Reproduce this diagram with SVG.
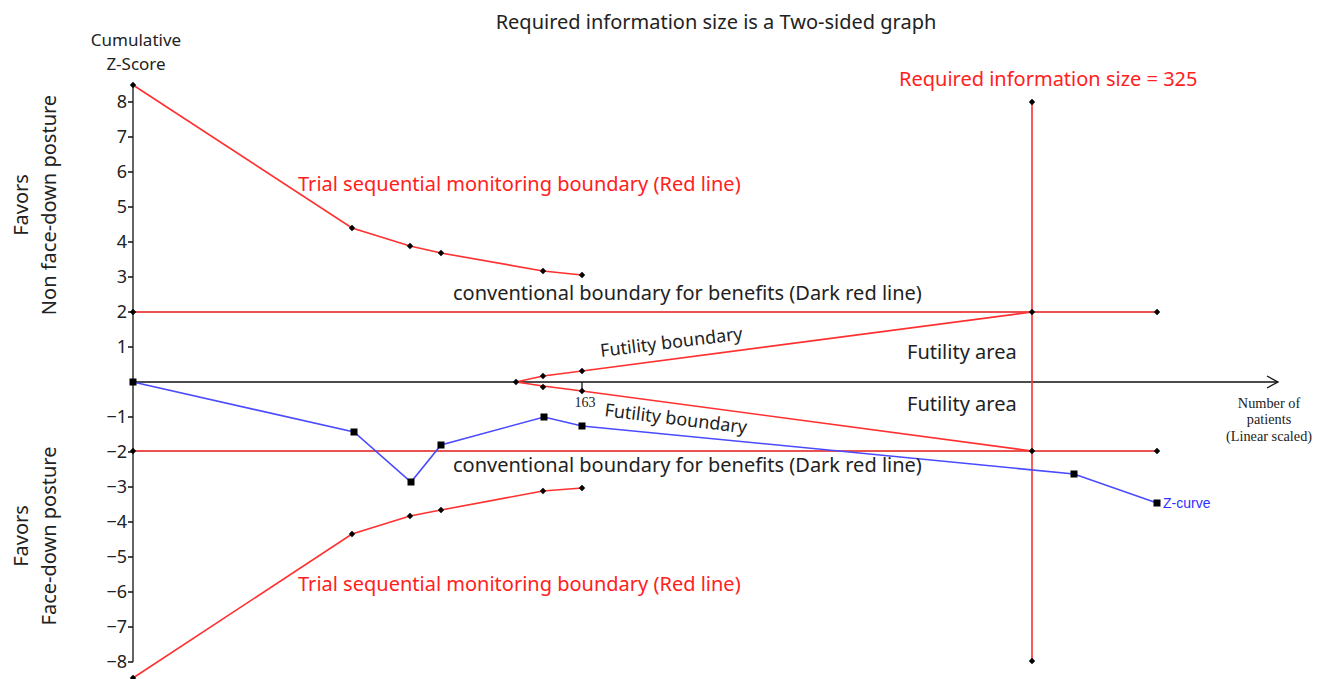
<svg xmlns="http://www.w3.org/2000/svg" width="1322" height="679" viewBox="0 0 1322 679">
<defs>
<style>
text{font-family:"Noto Sans","Open Sans","Liberation Sans",sans-serif;}
.lbl{font-size:20px;fill:#222;}
.red{fill:#ff2020;}
.tick{font-size:18px;fill:#222;text-anchor:end;}
.ser{font-family:"Liberation Serif",serif;font-size:14.3px;fill:#222;text-anchor:middle;}
.rl{stroke:#ff3030;stroke-width:1.6;fill:none;}
.dr{stroke:#e41a1a;stroke-width:1.4;fill:none;}
.bl{stroke:#4a4aff;stroke-width:1.6;fill:none;}
.ax{stroke:#111;stroke-width:1.3;fill:none;}
</style>
<marker id="arr" markerWidth="14" markerHeight="14" refX="12" refY="7" orient="auto" markerUnits="userSpaceOnUse">
<path d="M1,1 L12,7 L1,13" fill="none" stroke="#111" stroke-width="1.3"/>
</marker>
<path id="dot" d="M0,-3.2 L3.2,0 L0,3.2 L-3.2,0Z" fill="#000"/>
<rect id="sq" x="-3.5" y="-3.5" width="7" height="7" fill="#000"/>
</defs>
<rect width="1322" height="679" fill="#fff"/>

<g id="title"><text x="716" y="29" class="lbl" text-anchor="middle">Required information size is a Two-sided graph</text></g>

<g id="yaxis">
<text x="136" y="46" text-anchor="middle" style="font-size:17px;fill:#222">Cumulative</text>
<text x="136" y="70" text-anchor="middle" style="font-size:17px;fill:#222">Z-Score</text>
<path class="ax" d="M133,85 V662"/>
<path class="ax" d="M128,102 H133 M128,137 H133 M128,172 H133 M128,207 H133 M128,242 H133 M128,277 H133 M128,312 H133 M128,347 H133 M128,417 H133 M128,452 H133 M128,487 H133 M128,522 H133 M128,557 H133 M128,592 H133 M128,627 H133 M128,662 H133"/>
<text class="tick" x="127" y="108">8</text>
<text class="tick" x="127" y="143">7</text>
<text class="tick" x="127" y="178">6</text>
<text class="tick" x="127" y="213">5</text>
<text class="tick" x="127" y="248">4</text>
<text class="tick" x="127" y="283">3</text>
<text class="tick" x="127" y="318">2</text>
<text class="tick" x="127" y="353">1</text>
<text class="tick" x="127" y="423">−1</text>
<text class="tick" x="127" y="458">−2</text>
<text class="tick" x="127" y="493">−3</text>
<text class="tick" x="127" y="528">−4</text>
<text class="tick" x="127" y="563">−5</text>
<text class="tick" x="127" y="598">−6</text>
<text class="tick" x="127" y="633">−7</text>
<text class="tick" x="127" y="668">−8</text>
</g>

<g id="side-labels">
<text class="lbl" text-anchor="middle" transform="translate(28,205) rotate(-90)">Favors</text>
<text class="lbl" text-anchor="middle" transform="translate(56,205) rotate(-90)">Non face-down posture</text>
<text class="lbl" text-anchor="middle" transform="translate(28,536) rotate(-90)">Favors</text>
<text class="lbl" text-anchor="middle" transform="translate(56,536) rotate(-90)">Face-down posture</text>
</g>

<g id="xaxis">
<path class="ax" d="M133,382 H1278" marker-end="url(#arr)"/>
<path class="ax" d="M582,382 V391"/>
<text x="585" y="407" style="font-family:'Liberation Serif',serif;font-size:14px;fill:#222" text-anchor="middle">163</text>
<text class="ser" x="1269" y="408">Number of</text>
<text class="ser" x="1269" y="424">patients</text>
<text class="ser" x="1269" y="441">(Linear scaled)</text>
</g>

<g id="connectors">
<polyline class="rl" points="133,85 352,228 410,246 441,253 543,271 582,275"/>
<polyline class="rl" points="133,678 352,534 410,516 441,510 543,491 582,488"/>
<path class="dr" d="M133,312 H1157 M133,451 H1157"/>
<path class="rl" d="M1032,102 V661"/>
<polyline class="rl" points="516,382 543,376 582,371 1032,312"/>
<polyline class="rl" points="516,382 543,386 582,391 1032,451"/>
<polyline class="bl" points="133,382 354,432 411,482 441,445 544,417 582,426 1074,474 1157,503"/>
</g>

<g id="markers">
<use href="#dot" x="133" y="85"/><use href="#dot" x="352" y="228"/><use href="#dot" x="410" y="246"/><use href="#dot" x="441" y="253"/><use href="#dot" x="543" y="271"/><use href="#dot" x="582" y="275"/>
<use href="#dot" x="133" y="678"/><use href="#dot" x="352" y="534"/><use href="#dot" x="410" y="516"/><use href="#dot" x="441" y="510"/><use href="#dot" x="543" y="491"/><use href="#dot" x="582" y="488"/>
<use href="#dot" x="133" y="312"/><use href="#dot" x="1032" y="312"/><use href="#dot" x="1157" y="312"/>
<use href="#dot" x="133" y="451"/><use href="#dot" x="1032" y="451"/><use href="#dot" x="1157" y="451"/>
<use href="#dot" x="1032" y="102"/><use href="#dot" x="1032" y="661"/>
<use href="#dot" x="516" y="382"/><use href="#dot" x="543" y="376"/><use href="#dot" x="582" y="371"/><use href="#dot" x="543" y="387"/><use href="#dot" x="582" y="391"/>
<use href="#sq" x="133" y="382"/><use href="#sq" x="354" y="432"/><use href="#sq" x="411" y="482"/><use href="#sq" x="441" y="445"/><use href="#sq" x="544" y="417"/><use href="#sq" x="582" y="426"/><use href="#sq" x="1074" y="474"/><use href="#sq" x="1157" y="503"/>
</g>

<g id="labels">
<text class="lbl red" x="899" y="86">Required information size = 325</text>
<text class="lbl red" x="298" y="191">Trial sequential monitoring boundary (Red line)</text>
<text class="lbl red" x="298" y="591">Trial sequential monitoring boundary (Red line)</text>
<text class="lbl" x="453" y="300">conventional boundary for benefits (Dark red line)</text>
<text class="lbl" x="453" y="472">conventional boundary for benefits (Dark red line)</text>
<text class="lbl" x="907" y="359">Futility area</text>
<text class="lbl" x="907" y="411">Futility area</text>
<text x="0" y="0" style="font-size:18px;fill:#222" transform="translate(601,357) rotate(-7)">Futility boundary</text>
<text x="0" y="0" style="font-size:18px;fill:#222" transform="translate(604,416) rotate(7)">Futility boundary</text>
<text x="1163" y="508" style="font-family:'Liberation Sans',Arial,sans-serif;font-size:14px;fill:#3030ff">Z-curve</text>
</g>
</svg>
